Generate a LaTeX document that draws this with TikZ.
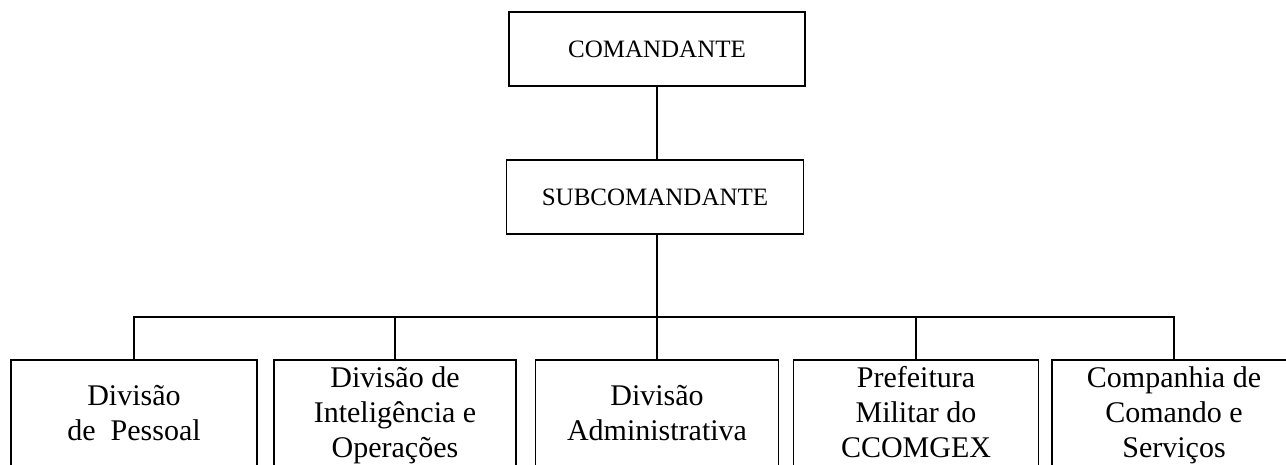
\documentclass[tikz,border=0pt]{standalone}
\usepackage{fontspec}
\setmainfont{Liberation Serif}
\begin{document}
\begin{tikzpicture}[x=1pt,y=-1pt,
  topbox/.style={draw, line width=1.6pt, inner sep=0pt, minimum height=74pt,
    font=\fontsize{25}{29}\selectfont},
  unitbox/.style={draw, line width=1.6pt, inner sep=0pt, anchor=north,
    minimum height=112pt, align=center, font=\fontsize{30}{35}\selectfont},
  link/.style={line width=1.6pt}]
\useasboundingbox (0,0) rectangle (1286,465);
\clip (0,0) rectangle (1286,465);
\node[topbox, minimum width=296pt] (com) at (657,49) {COMANDANTE};
\node[topbox, minimum width=297pt] (sub) at (655,197) {SUBCOMANDANTE};
\coordinate (junction) at (657,317);
\node[unitbox, minimum width=246pt] (b1) at (134,359) {\strut Divisão\\\strut de~ Pessoal};
\node[unitbox, minimum width=242pt] (b2) at (395,359) {\strut Divisão de\\\strut Inteligência e\\\strut Operações};
\node[unitbox, minimum width=243pt] (b3) at (657,359) {\strut Divisão\\\strut Administrativa};
\node[unitbox, minimum width=245pt] (b4) at (916,359) {\strut Prefeitura\\\strut Militar do\\\strut CCOMGEX};
\node[unitbox, minimum width=244pt] (b5) at (1174,359) {\strut Companhia de\\\strut Comando e\\\strut Serviços};
\draw[link] (com.south) -- (com.south |- sub.north);
\draw[link] (junction |- sub.south) -- (junction);
\draw[link] (junction) -| (b1.north);
\draw[link] (junction) -| (b2.north);
\draw[link] (junction) -- (b3.north);
\draw[link] (junction) -| (b4.north);
\draw[link] (junction) -| (b5.north);
\end{tikzpicture}
\end{document}
